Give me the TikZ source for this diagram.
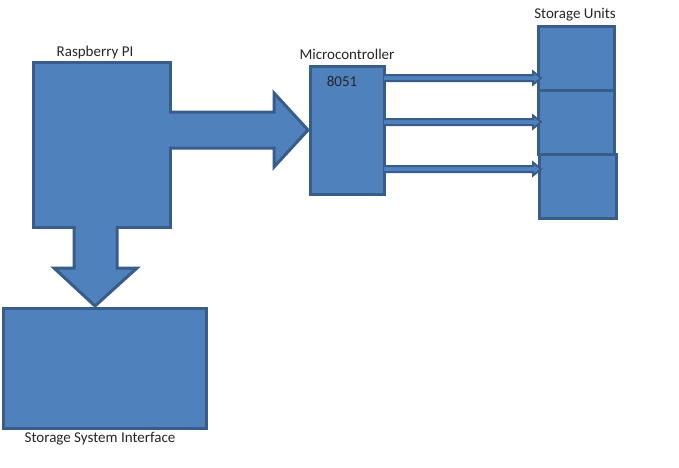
\documentclass[tikz,border=0pt]{standalone}
\usepackage{fontspec}
\setmainfont{Carlito}
\definecolor{boxfill}{HTML}{4F81BD}
\definecolor{boxline}{HTML}{385D8A}
\begin{document}
\begin{tikzpicture}[x=1pt,y=-1pt,
  blk/.style={draw=boxline,fill=boxfill,line width=3pt,inner sep=0pt,anchor=north west},
  barrow/.style={draw=boxline,fill=boxfill,line width=3pt,line join=miter},
  tarrow/.style={draw=boxline,fill=boxfill,line width=2pt,line join=miter},
  lbl/.style={font=\fontsize{15}{17}\selectfont,inner sep=0pt,text=black!85}]
\useasboundingbox (0,0) rectangle (679,467);
\fill[white] (0,0) rectangle (679,467);
% boxes
\node[blk,minimum width=137pt,minimum height=165pt] (rpi) at (32,61) {};
\node[blk,minimum width=203pt,minimum height=120pt] (ssi) at (1.5,307) {};
\node[blk,minimum width=74pt,minimum height=128pt] (mcu) at (309,65) {};
\node[blk,minimum width=76pt,minimum height=64pt] (su1) at (537,25) {};
\node[blk,minimum width=76pt,minimum height=64pt] (su2) at (537,89) {};
\node[blk,minimum width=77pt,minimum height=64pt] (su3) at (538,153) {};
% labels
\node[lbl] (lrpi) at (95,52) {Raspberry PI};
\node[lbl] (lmcu) at (347,54) {Microcontroller};
\node[lbl] (l8051) at (342,81) {8051};
\node[lbl] (lsu) at (575,15) {Storage Units};
\node[lbl] (lssi) at (100,439) {Storage System Interface};
% big right arrow
\draw[barrow] (169,112) -- (274,112) -- (274,93) -- (308,130) -- (274,167) -- (274,148) -- (169,148);
% big down arrow
\draw[barrow] (74,226) -- (74,268) -- (54,268) -- (95,306) -- (137,268) -- (117,268) -- (117,226);
% thin arrows
\foreach \yy/\n in {78/1,122/2,169/3}{
  \draw[tarrow] (384,\yy-3) -- (533,\yy-3) -- (533,\yy-6.5) -- (541,\yy) -- (533,\yy+6.5) -- (533,\yy+3) -- (384,\yy+3);
}
\end{tikzpicture}
\end{document}
